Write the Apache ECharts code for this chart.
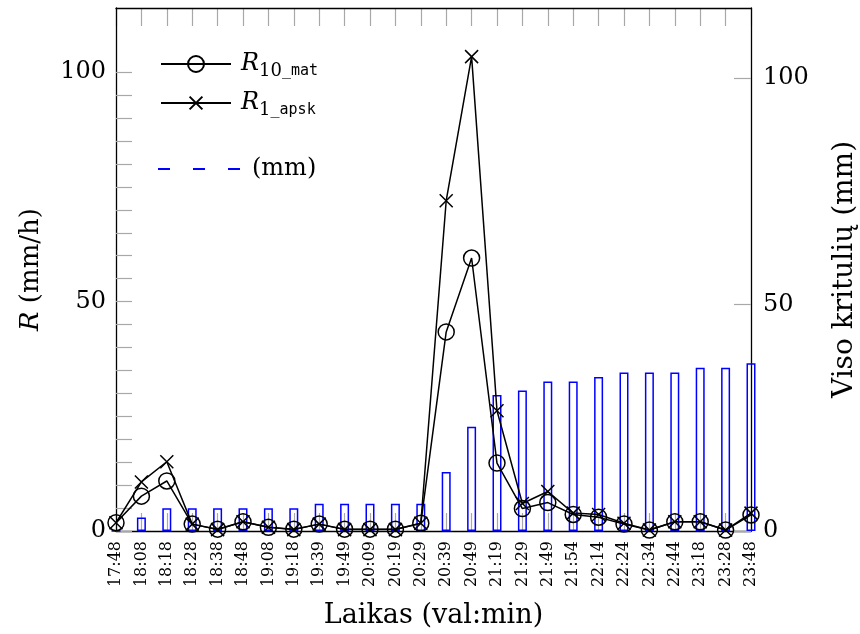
<!DOCTYPE html>
<html><head><meta charset="utf-8">
<script src="https://cdn.jsdelivr.net/npm/echarts@6/dist/echarts.min.js"></script>
<style>html,body{margin:0;padding:0;background:#fff}#c{width:860px;height:634px}</style>
</head><body><div id="c"></div>
<script>
const categories = ['17:48','18:08','18:18','18:28','18:38','18:48','19:08','19:18','19:39','19:49','20:09','20:19','20:29','20:39','20:49','21:19','21:29','21:49','21:54','22:14','22:24','22:34','22:44','23:18','23:28','23:48'];
const r10Mat = [1.8, 7.6, 10.9, 1.5, 0.4, 2.0, 0.8, 0.4, 1.5, 0.4, 0.4, 0.4, 1.7, 43.4, 59.5, 14.8, 4.9, 6.2, 3.6, 3.0, 1.5, 0.2, 2.0, 2.0, 0.2, 3.5];
const r1Apsk = [1.8, 10.7, 15.1, 1.5, 0.3, 2.0, 0.8, 0.3, 1.5, 0.3, 0.3, 0.3, 1.7, 72.0, 103.4, 26.2, 6.0, 8.6, 3.9, 3.6, 1.7, 0.2, 2.0, 2.0, 0.2, 3.9];
const totalMm = [0, 3, 5, 5, 5, 5, 5, 5, 6, 6, 6, 6, 6, 13, 23, 30, 31, 33, 33, 34, 35, 35, 35, 36, 36, 37];
const leftLabels = [0, 50, 100];
const leftTicks = [0, 5, 10, 15, 20, 25, 30, 35, 40, 45, 50, 55, 60, 65, 70, 75, 80, 85, 90, 95, 100];
const rightLabels = [0, 50, 100];
const rightTicks = [0, 50, 100];

const SERIF = 'DejaVu Serif';
const MONO = 'DejaVu Sans Mono';
const TICK = '#a8a8a8';
const BLUE = '#0000ff';

const legendRich = {
  i: {fontFamily: SERIF, fontStyle: 'italic', fontSize: 24, color: '#000', padding: [0, 0, 0, 5]},
  s: {fontFamily: SERIF, fontSize: 18, color: '#000', padding: [14, 0, 0, 0]},
  t: {fontFamily: MONO, fontSize: 15, color: '#000', padding: [14, 0, 0, 0]},
  n: {fontFamily: SERIF, fontSize: 24, color: '#000', padding: [0, 0, 0, 7]}
};
const legendText = {
  'R10_mat': '{i|R}{s|10}{t|_mat}',
  'R1_apsk': '{i|R}{s|1}{t|_apsk}',
  '(mm)': '{n|(mm)}'
};
function legendFmt(name) { return legendText[name]; }

// thin strips along the top and bottom frame whose split lines act as inward x ticks
function tickStripX(gridIndex) {
  return {type: 'category', gridIndex: gridIndex, data: categories, boundaryGap: false,
    axisLine: {show: false}, axisTick: {show: false}, axisLabel: {show: false},
    splitLine: {show: true, interval: 0, lineStyle: {color: TICK, width: 1.2}}};
}
function tickStripY(gridIndex) {
  return {type: 'value', gridIndex: gridIndex, min: 0, max: 1, show: false, splitLine: {show: false}};
}

const chart = echarts.init(document.getElementById('c'), null, {renderer: 'canvas'});
chart.setOption({
  animation: false,
  backgroundColor: '#fff',
  grid: [
    {left: 116, right: 109, top: 8, bottom: 103, containLabel: false, outerBoundsMode: 'none'},
    {left: 116, right: 109, top: 8, height: 18, containLabel: false, outerBoundsMode: 'none'},
    {left: 116, right: 109, top: 513, height: 18, containLabel: false, outerBoundsMode: 'none'}
  ],
  legend: [
    {data: ['R10_mat'], left: 160, top: 52, orient: 'vertical', itemWidth: 70, itemHeight: 20, padding: 0,
     formatter: legendFmt, textStyle: {rich: legendRich}, selectedMode: false},
    {data: ['R1_apsk'], left: 160, top: 91, orient: 'vertical', itemWidth: 70, itemHeight: 16, padding: 0,
     formatter: legendFmt, textStyle: {rich: legendRich}, selectedMode: false},
    {data: [{name: '(mm)', icon: 'path://M0,0h12v2h-12zM35,0h12v2h-12zM70,0h12v2h-12z', itemStyle: {color: BLUE, borderWidth: 0}}],
     left: 158, top: 157, orient: 'vertical', itemWidth: 82, itemHeight: 2, padding: 0,
     formatter: legendFmt, textStyle: {rich: legendRich}, selectedMode: false}
  ],
  xAxis: [
    {type: 'category', gridIndex: 0, data: categories, boundaryGap: false, position: 'bottom',
     axisLine: {onZero: false, lineStyle: {color: '#000', width: 1.3}},
     axisTick: {show: false},
     axisLabel: {interval: 0, rotate: 90, fontFamily: SERIF, fontSize: 16, color: '#000', margin: 10},
     name: 'Laikas (val:min)', nameLocation: 'middle', nameGap: 71,
     nameTextStyle: {fontFamily: SERIF, fontSize: 27, color: '#000'}},
    {type: 'category', gridIndex: 0, data: categories, boundaryGap: false, position: 'top',
     axisLine: {onZero: false, lineStyle: {color: '#000', width: 1.3}},
     axisTick: {show: false}, axisLabel: {show: false}},
    tickStripX(1),
    tickStripX(2)
  ],
  yAxis: [
    {type: 'value', gridIndex: 0, min: 0, max: 114, position: 'left',
     axisLine: {show: true, onZero: false, lineStyle: {color: '#000', width: 1.3}},
     axisTick: {show: true, inside: true, length: 16, customValues: leftTicks, lineStyle: {color: TICK, width: 1.2}},
     axisLabel: {customValues: leftLabels, fontFamily: SERIF, fontSize: 24, color: '#000', margin: 10},
     splitLine: {show: false},
     name: '{i|R} (mm/h)', nameLocation: 'middle', nameGap: 72,
     nameTextStyle: {fontFamily: SERIF, fontSize: 26, color: '#000',
       rich: {i: {fontFamily: SERIF, fontStyle: 'italic', fontSize: 26, color: '#000'}}}},
    {type: 'value', gridIndex: 0, min: 0, max: 115.4, position: 'right',
     axisLine: {show: true, onZero: false, lineStyle: {color: '#000', width: 1.3}},
     axisTick: {show: true, inside: true, length: 17, customValues: rightTicks, lineStyle: {color: TICK, width: 1.2}},
     axisLabel: {customValues: rightLabels, fontFamily: SERIF, fontSize: 24, color: '#000', margin: 12},
     splitLine: {show: false},
     name: 'Viso kritulių (mm)', nameLocation: 'middle', nameGap: 80,
     nameTextStyle: {fontFamily: SERIF, fontSize: 28, color: '#000'}},
    tickStripY(1),
    tickStripY(2)
  ],
  series: [
    {name: '(mm)', type: 'bar', xAxisIndex: 0, yAxisIndex: 1, data: totalMm, barWidth: 9, z: 1,
     itemStyle: {color: 'transparent', borderColor: BLUE, borderWidth: 1.5}},
    {name: 'R10_mat', type: 'line', xAxisIndex: 0, yAxisIndex: 0, data: r10Mat, z: 3,
     symbol: 'circle', symbolSize: 16, showAllSymbol: true,
     lineStyle: {color: '#000', width: 1.5},
     itemStyle: {color: 'transparent', borderColor: '#000', borderWidth: 1.5}},
    {name: 'R1_apsk', type: 'line', xAxisIndex: 0, yAxisIndex: 0, data: r1Apsk, z: 3,
     symbol: 'path://M0,0L10,10M10,0L0,10', symbolSize: 13, showAllSymbol: true,
     lineStyle: {color: '#000', width: 1.5},
     itemStyle: {color: 'transparent', borderColor: '#000', borderWidth: 1.5}}
  ]
});
</script>
</body></html>
